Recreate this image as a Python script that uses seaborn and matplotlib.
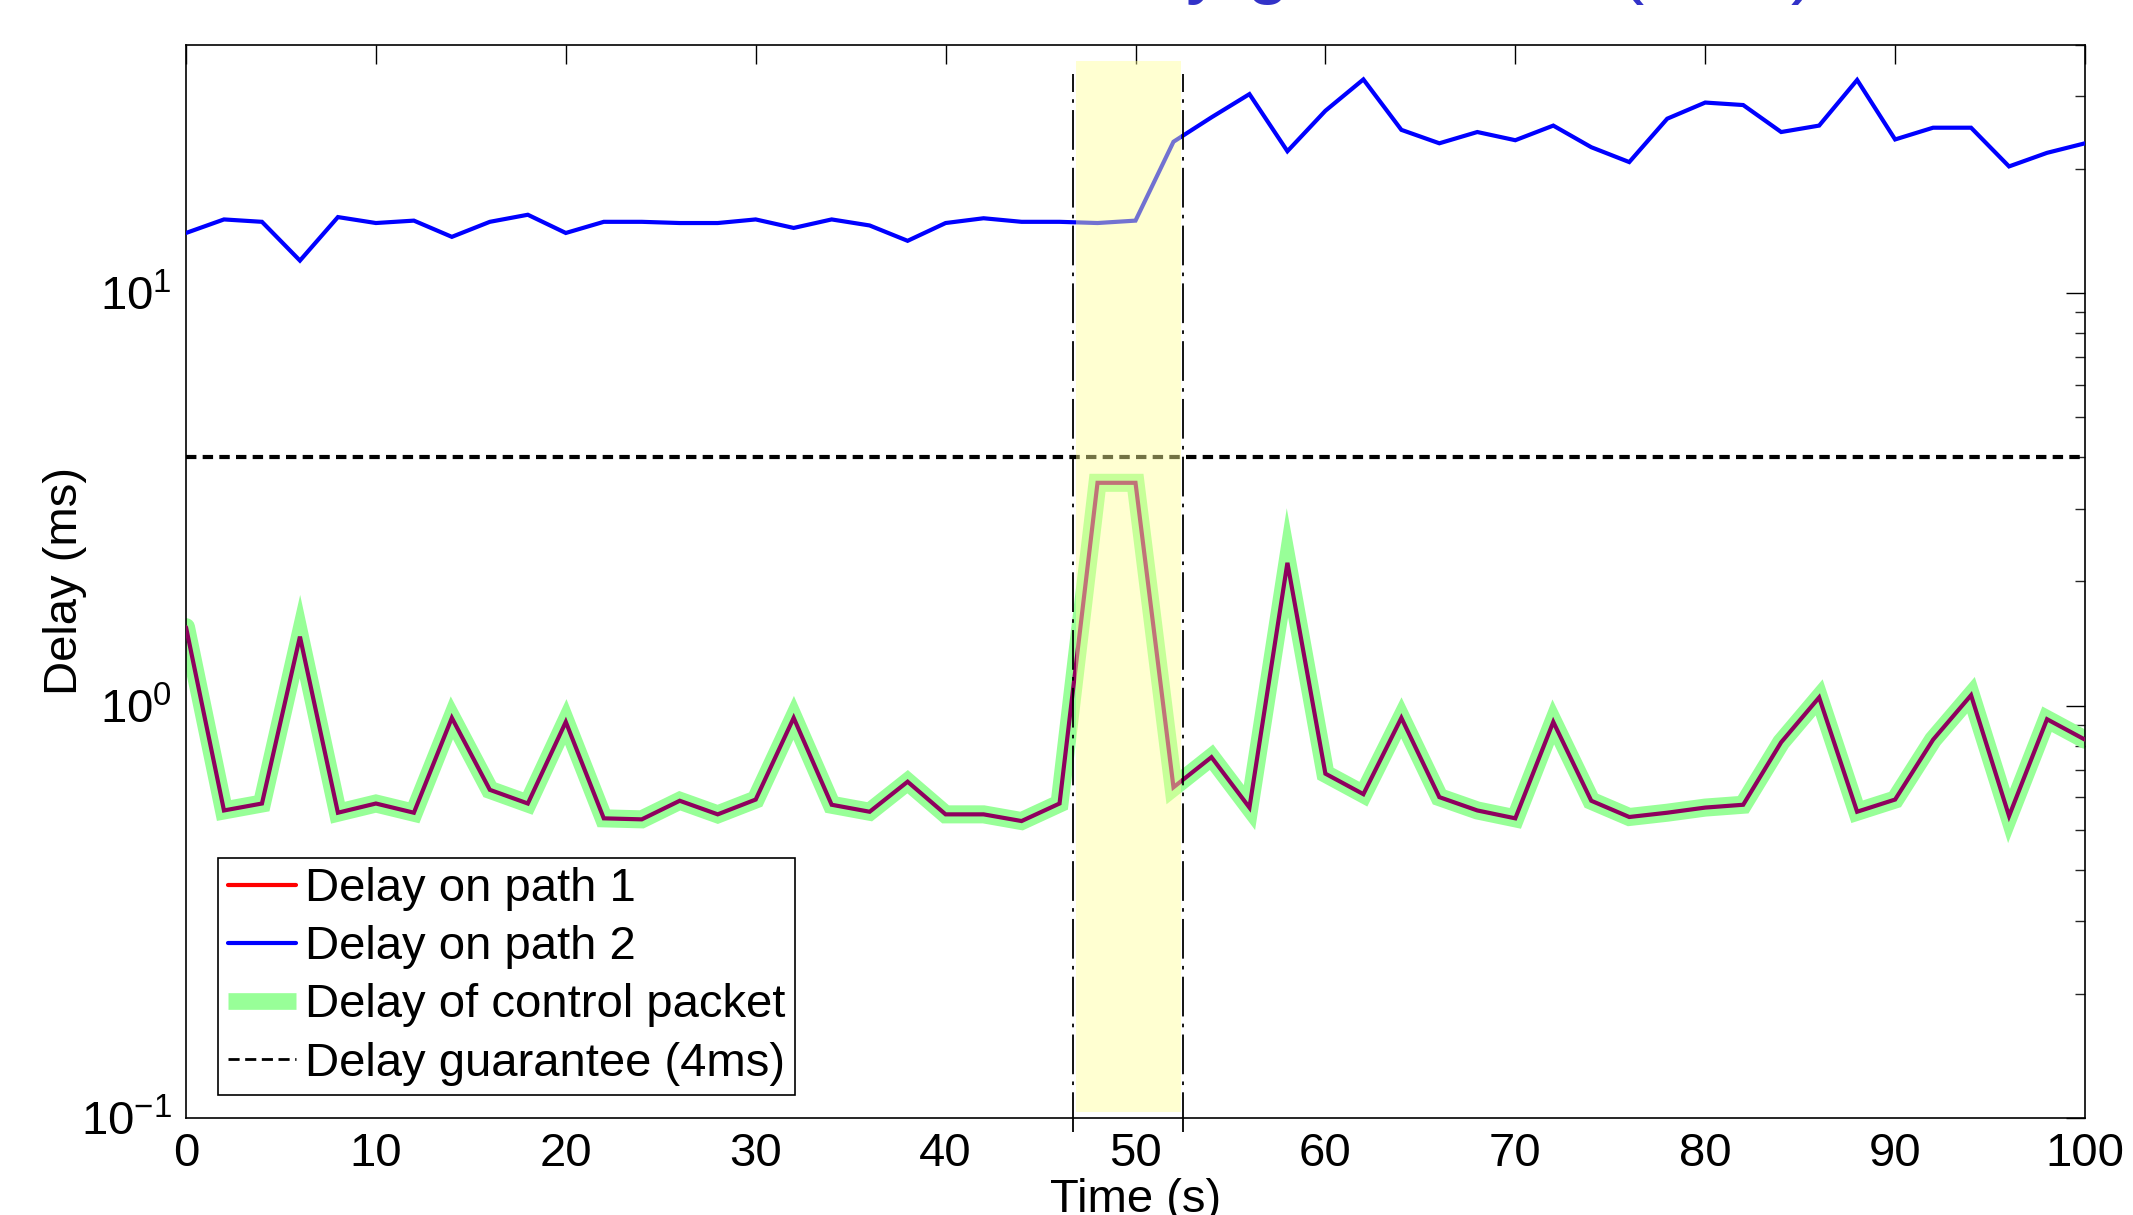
import pandas as pd
import seaborn as sns
import matplotlib.pyplot as plt
from matplotlib.lines import Line2D

# time axis (s), one sample every 2 s
time_s = [0, 2, 4, 6, 8, 10, 12, 14, 16, 18, 20, 22, 24, 26, 28, 30, 32, 34, 36, 38,
          40, 42, 44, 46, 48, 50, 52, 54, 56, 58, 60, 62, 64, 66, 68, 70, 72, 74, 76, 78,
          80, 82, 84, 86, 88, 90, 92, 94, 96, 98, 100]

# delay on path 1 (ms) - also what the control packet sees
path1_ms = [1.55, 0.557, 0.579, 1.47, 0.55, 0.579, 0.55, 0.934, 0.625, 0.579,
            0.913, 0.533, 0.53, 0.588, 0.545, 0.592, 0.934, 0.575, 0.553, 0.654,
            0.545, 0.545, 0.525, 0.579, 3.47, 3.47, 0.634, 0.75, 0.566, 2.22,
            0.684, 0.61, 0.934, 0.60, 0.557, 0.533, 0.913, 0.588, 0.537, 0.55,
            0.566, 0.575, 0.815, 1.047, 0.553, 0.592, 0.827, 1.06, 0.54, 0.927,
            0.827]

# delay on path 2 (ms)
path2_ms = [14.0, 15.1, 14.9, 12.0, 15.3, 14.8, 15.0, 13.7, 14.9, 15.5,
            14.0, 14.9, 14.9, 14.8, 14.8, 15.1, 14.4, 15.1, 14.6, 13.4,
            14.8, 15.2, 14.9, 14.9, 14.8, 15.0, 23.3, 26.7, 30.4, 22.1,
            27.7, 33.0, 24.9, 23.1, 24.6, 23.5, 25.5, 22.6, 20.8, 26.5,
            29.0, 28.6, 24.6, 25.5, 32.9, 23.6, 25.2, 25.2, 20.3, 21.9,
            23.1]

guarantee_ms = 4
switch_window = [46.85, 52.4]
switch_marks = [46.7, 52.5]

labels = ['Delay on path 1', 'Delay on path 2', 'Delay of control packet',
          'Delay guarantee (4ms)']

df = pd.DataFrame({'time': time_s, 'path1': path1_ms, 'path2': path2_ms})

sns.set_theme(style='white')
plt.rcParams['font.family'] = ['Liberation Sans', 'DejaVu Sans']
plt.rcParams['mathtext.fontset'] = 'custom'
plt.rcParams['mathtext.rm'] = 'Liberation Sans'
plt.rcParams['text.color'] = 'black'
plt.rcParams['axes.labelcolor'] = 'black'

fig = plt.figure(figsize=(21.33, 12.15), dpi=100)
ax = fig.add_axes([0.0872, 0.0798, 0.8903, 0.8832])
ax.set_yscale('log')

# control packet band, then the two path delays on top
sns.lineplot(data=df, x='time', y='path1', color='#98FF98', lw=13, ax=ax, zorder=2,
             solid_joinstyle='miter')
sns.lineplot(data=df, x='time', y='path1', color='#8E005E', lw=3, ax=ax, zorder=3,
             solid_joinstyle='miter')
sns.lineplot(data=df, x='time', y='path2', color='#0000FF', lw=3, ax=ax, zorder=3,
             solid_joinstyle='miter')

ax.axhline(guarantee_ms, color='black', ls=(0, (2.5, 1.5)), lw=3, zorder=3)

# switching period highlight
ax.fill_between(switch_window, 0.1035, 36.5, color='#FFFF99', alpha=0.45, lw=0, zorder=4)
for xv in switch_marks:
    ax.plot([xv, xv], [0.0925, 34], color='black', lw=1.3, ls=(0, (22, 4, 2, 4)),
            clip_on=False, zorder=5)

ax.set_xlim(0, 100)
ax.set_ylim(0.1, 40)
ax.set_xticks(range(0, 101, 10))

ax.tick_params(which='major', direction='in', length=14, width=1, top=True, right=True,
               labelsize=34, pad=10, colors='black')
ax.tick_params(which='minor', direction='in', length=7, width=1, top=True, right=True)
ax.tick_params(axis='x', which='minor', length=0)
for sp in ax.spines.values():
    sp.set_color('black')
    sp.set_linewidth(1.2)

ax.set_xlabel('Time (s)', fontsize=34)
ax.set_ylabel('Delay (ms)', fontsize=34)
ax.xaxis.set_label_coords(0.5, -0.056)
ax.yaxis.set_label_coords(-0.052, 0.5)

handles = [Line2D([], [], color='red', lw=3),
           Line2D([], [], color='blue', lw=3),
           Line2D([], [], color='#98FF98', lw=12, solid_capstyle='butt'),
           Line2D([], [], color='black', lw=2, ls=(0, (4, 2)))]
leg = ax.legend(handles, labels, loc='lower left', bbox_to_anchor=(0.0169, 0.0214),
                fontsize=34, frameon=True, fancybox=False, edgecolor='black',
                framealpha=1, handlelength=1.45, handletextpad=0.2,
                labelspacing=0.3, borderpad=0.2, borderaxespad=0)
leg.get_frame().set_linewidth(1.2)

# title is cut off by the top edge in the original
fig.text(0.852, 1.009, 'Delay guarantee (4ms)', ha='right', va='baseline',
         fontsize=56, color='#3232C8')

fig.savefig('out.png', dpi=100)
